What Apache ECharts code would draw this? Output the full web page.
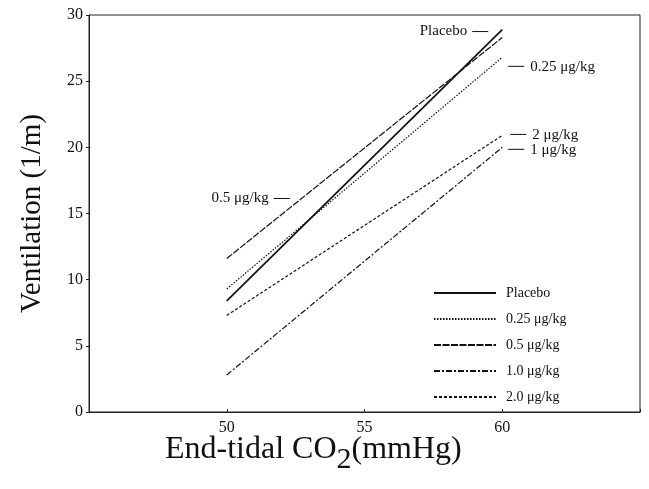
<!DOCTYPE html>
<html><head><meta charset="utf-8">
<script src="https://cdn.jsdelivr.net/npm/echarts@6/dist/echarts.min.js"></script>
<style>html,body{margin:0;padding:0;background:#fff}#c{width:649px;height:489px}</style>
</head><body><div id="c"></div>
<script>
const xValues = [50, 60];
const placebo = [8.4, 28.9];
const dose025 = [9.3, 26.8];
const dose05 = [11.6, 28.3];
const dose10 = [2.8, 20.0];
const dose20 = [7.3, 20.9];
const legendNames = ['Placebo', '0.25 μg/kg', '0.5 μg/kg', '1.0 μg/kg', '2.0 μg/kg'];
const xTicks = [50, 55, 60];
const yTicks = [0, 5, 10, 15, 20, 25, 30];

const F = '"Liberation Serif","DejaVu Serif",serif';
const chart = echarts.init(document.getElementById('c'));
function pts(v){ return xValues.map((x,i)=>[x, v[i]]); }
const styles = [
  {type:'solid', width:1.7},
  {type:[1.5,1.5], width:1.2},
  {type:[7,1.5], width:1.2},
  {type:[6,2,2,2], width:1.2},
  {type:[3,2], width:1.2}
];
const vals = [placebo, dose025, dose05, dose10, dose20];
const series = vals.map((v,i)=>({
  name: legendNames[i], type:'line', data: pts(v), symbol:'none',
  lineStyle:{color:'#111', width:styles[i].width, type:styles[i].type},
  itemStyle:{color:'#111'}, animation:false
}));
chart.setOption({
  animation:false,
  grid:{left:89, right:9, top:15, bottom:77, show:true, borderColor:'#222', borderWidth:1},
  legend:{orient:'vertical', left:428, top:281, itemWidth:62, itemHeight:14, itemGap:12,
    data:legendNames, selectedMode:false,
    itemStyle:{color:'rgba(0,0,0,0)', borderWidth:0, borderColor:'rgba(0,0,0,0)'},
    textStyle:{fontFamily:F, fontSize:14, color:'#111', padding:[0,0,0,5]}},
  xAxis:{type:'value', min:45, max:65, interval:5,
    axisLine:{lineStyle:{color:'#222'}}, splitLine:{show:false},
    axisTick:{inside:true, length:3, lineStyle:{color:'#222'}},
    axisLabel:{fontFamily:F, fontSize:16, color:'#111', margin:8,
      formatter:v=>xTicks.includes(v)?String(v):''}},
  yAxis:{type:'value', min:0, max:30, interval:5,
    name:'Ventilation (1/m)', nameLocation:'middle', nameGap:42,
    nameTextStyle:{fontFamily:F, fontSize:29, color:'#111'},
    axisLine:{show:true, lineStyle:{color:'#222'}}, splitLine:{show:false},
    axisTick:{length:3, lineStyle:{color:'#222'}},
    axisLabel:{fontFamily:F, fontSize:16, color:'#111', margin:6,
      formatter:v=>yTicks.includes(v)?String(v):''}},
  series: series
});
function px(x,y){ return chart.convertToPixel({gridIndex:0},[x,y]); }
const g = [];
function ann(anchor, dx, dy, text, side){
  const p = px(anchor[0], anchor[1]);
  const y = p[1]+dy;
  if(side==='right'){
    g.push({type:'line', shape:{x1:p[0]+dx, y1:y, x2:p[0]+dx+16, y2:y}, style:{stroke:'#111', lineWidth:1}});
    g.push({type:'text', x:p[0]+dx+22, y:y+1, style:{text:text, font:'15px '+F, fill:'#111', textVerticalAlign:'middle', textAlign:'left'}});
  } else {
    g.push({type:'line', shape:{x1:p[0]+dx-16, y1:y, x2:p[0]+dx, y2:y}, style:{stroke:'#111', lineWidth:1}});
    g.push({type:'text', x:p[0]+dx-21, y:y, style:{text:text, font:'15px '+F, fill:'#111', textVerticalAlign:'middle', textAlign:'right'}});
  }
}
ann([xValues[1], placebo[1]], -14, 2, 'Placebo', 'left');
ann([xValues[1], dose025[1]], 6, 9, '0.25 μg/kg', 'right');
ann([xValues[1], dose20[1]], 8, -1, '2 μg/kg', 'right');
ann([xValues[1], dose10[1]], 6, 2, '1 μg/kg', 'right');
ann([xValues[0], dose05[0]], 63, -60, '0.5 μg/kg', 'left');
g.push({type:'text', left:165, top:434, style:{
  text:'{a|End-tidal CO}{s|2}{a|(mmHg)}',
  rich:{a:{font:'32px '+F, fill:'#111'}, s:{font:'30px '+F, fill:'#111', padding:[20,0,0,0]}}}});
chart.setOption({graphic:g});
</script></body></html>
